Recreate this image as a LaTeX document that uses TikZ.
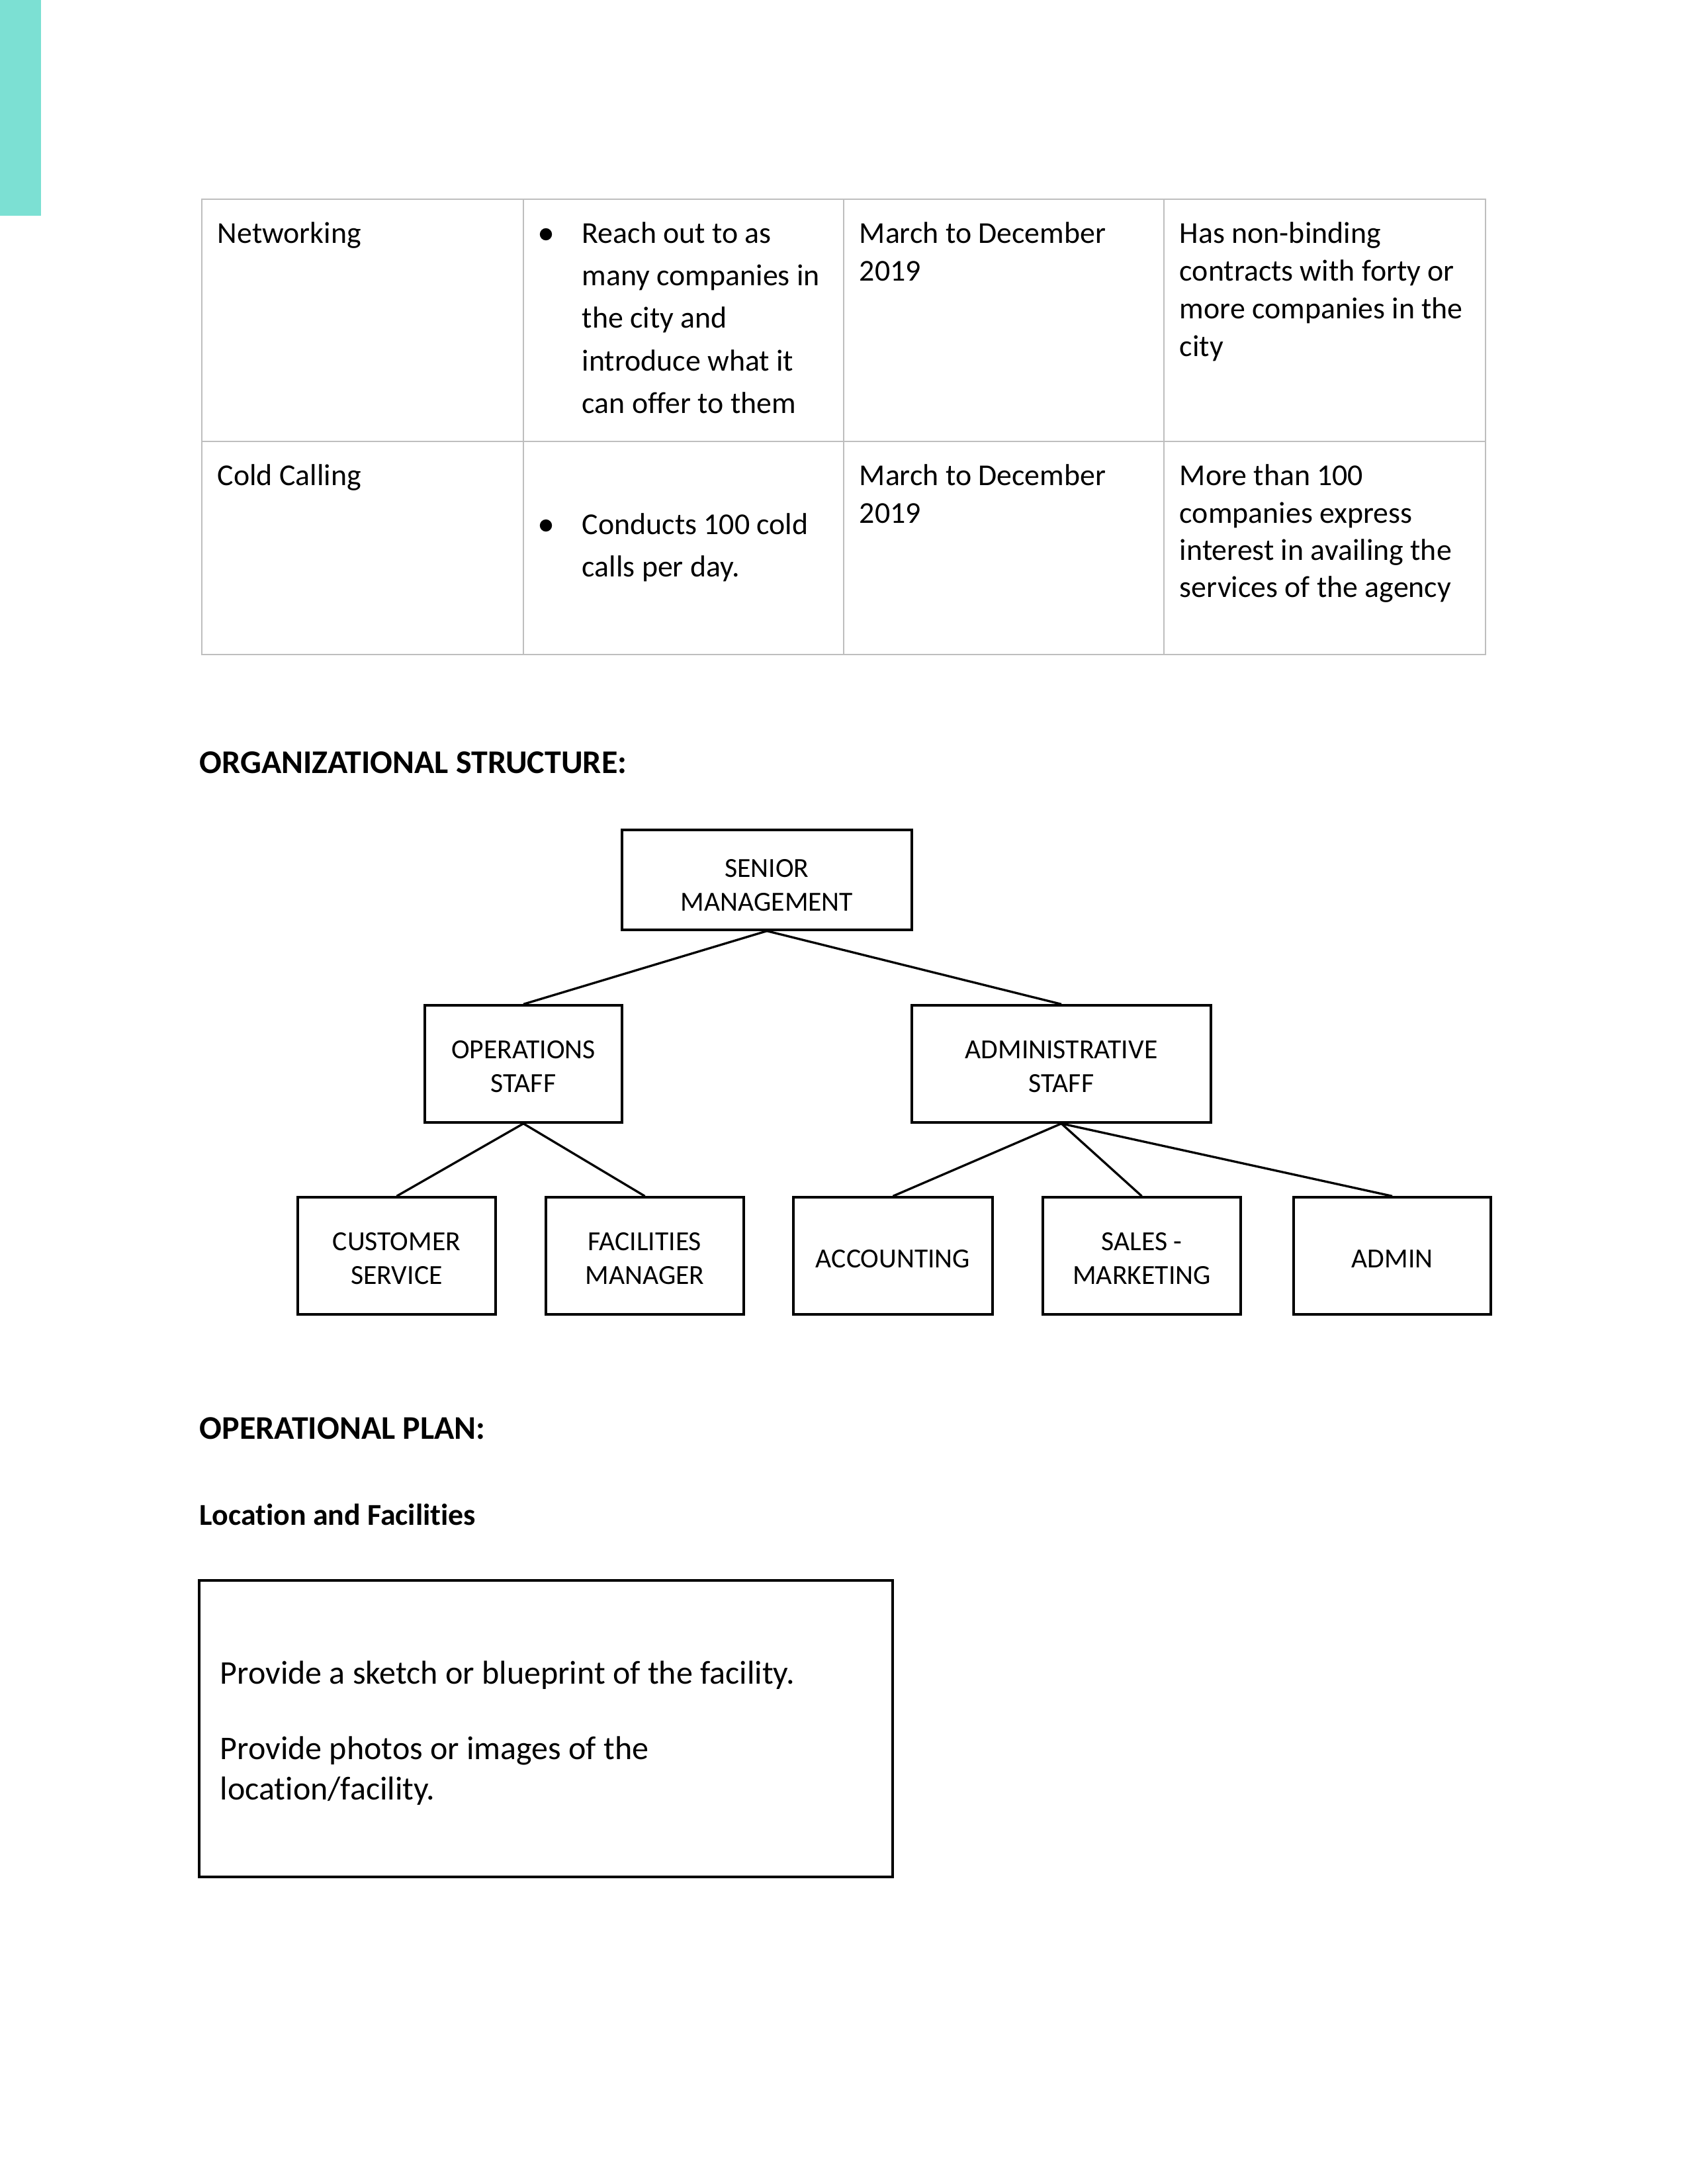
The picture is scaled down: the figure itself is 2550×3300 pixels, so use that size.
\documentclass[tikz,border=0pt]{standalone}
\usepackage{fontspec}
\setmainfont{Carlito}[Ligatures=NoCommon]
\definecolor{accentbar}{RGB}{124,224,211}
\definecolor{gridgray}{RGB}{190,190,190}
\newcommand{\orgstrut}[1][8.5pt]{\rule{0pt}{#1}}
\begin{document}
\begin{tikzpicture}[x=0.24pt,y=-0.24pt,
  tableline/.style={draw=gridgray, line width=0.55pt},
  tcell/.style={anchor=base west, inner sep=0pt, font=\fontsize{11}{13}\selectfont},
  heading/.style={anchor=base west, inner sep=0pt, font=\bfseries\fontsize{12}{14}\selectfont},
  subheading/.style={anchor=base west, inner sep=0pt, font=\bfseries\fontsize{11}{13}\selectfont},
  boxtext/.style={anchor=base west, inner sep=0pt, font=\fontsize{12}{14.6}\selectfont},
  orgbox/.style={draw, line width=0.8pt, align=center, inner sep=0pt,
    font=\fontsize{10}{12.2}\selectfont, minimum height={177*0.24pt}},
  orgline/.style={line width=0.8pt},
  bulletdot/.style={fill=black}
]
\useasboundingbox (0,0) rectangle (2550,3300);

% accent bar
\fill[accentbar] (0,0) rectangle (62,326);

% ---------- table ----------
\draw[tableline] (305,301) rectangle (2245,989);
\draw[tableline] (305,667) -- (2245,667);
\draw[tableline] (791,301) -- (791,989);
\draw[tableline] (1275,301) -- (1275,989);
\draw[tableline] (1759,301) -- (1759,989);

% row 1
\node[tcell] (r1c1) at (328,367) {Networking};
\fill[bulletdot] (825,354) circle[radius=2.2pt];
\node[tcell] (r1b1) at (879,367) {Reach out to as};
\node[tcell] (r1b2) at (879,431) {many companies in};
\node[tcell] (r1b3) at (879,495) {the city and};
\node[tcell] (r1b4) at (879,560) {introduce what it};
\node[tcell] (r1b5) at (879,624) {can offer to them};
\node[tcell] (r1c3a) at (1298,367) {March to December};
\node[tcell] (r1c3b) at (1298,424) {2019};
\node[tcell] (r1c4a) at (1782,367) {Has non-binding};
\node[tcell] (r1c4b) at (1782,424) {contracts with forty or};
\node[tcell] (r1c4c) at (1782,481) {more companies in the};
\node[tcell] (r1c4d) at (1782,538) {city};

% row 2
\node[tcell] (r2c1) at (328,733) {Cold Calling};
\fill[bulletdot] (825,794) circle[radius=2.2pt];
\node[tcell] (r2b1) at (879,807) {Conducts 100 cold};
\node[tcell] (r2b2) at (879,871) {calls per day.};
\node[tcell] (r2c3a) at (1298,733) {March to December};
\node[tcell] (r2c3b) at (1298,790) {2019};
\node[tcell] (r2c4a) at (1782,733) {More than 100};
\node[tcell] (r2c4b) at (1782,790) {companies express};
\node[tcell] (r2c4c) at (1782,846) {interest in availing the};
\node[tcell] (r2c4d) at (1782,902) {services of the agency};

% ---------- organizational structure ----------
\node[heading] (orghead) at (301,1168) {ORGANIZATIONAL STRUCTURE:};

\node[orgbox, minimum width={438*0.24pt}, minimum height={151*0.24pt}] (sm) at (1159,1329.5) {\orgstrut[10.5pt]SENIOR\\MANAGEMENT};
\node[orgbox, minimum width={298*0.24pt}] (ops) at (791,1607.5) {\orgstrut OPERATIONS\\STAFF};
\node[orgbox, minimum width={452*0.24pt}] (adm) at (1604,1607.5) {\orgstrut ADMINISTRATIVE\\STAFF};
\node[orgbox, minimum width={299*0.24pt}] (cs) at (599.5,1897.5) {\orgstrut CUSTOMER\\SERVICE};
\node[orgbox, minimum width={299*0.24pt}] (fm) at (974.5,1897.5) {\orgstrut FACILITIES\\MANAGER};
\node[orgbox, minimum width={301*0.24pt}] (acc) at (1349.5,1897.5) {\orgstrut ACCOUNTING};
\node[orgbox, minimum width={299*0.24pt}] (sales) at (1725.5,1897.5) {\orgstrut SALES -\\MARKETING};
\node[orgbox, minimum width={298*0.24pt}] (admin) at (2104,1897.5) {\orgstrut ADMIN};

\draw[orgline] (sm.south) -- (ops.north);
\draw[orgline] (sm.south) -- (adm.north);
\draw[orgline] (ops.south) -- (cs.north);
\draw[orgline] (ops.south) -- (fm.north);
\draw[orgline] (adm.south) -- (acc.north);
\draw[orgline] (adm.south) -- (sales.north);
\draw[orgline] (adm.south) -- (admin.north);

% ---------- operational plan ----------
\node[heading] (ophead) at (301,2174) {OPERATIONAL PLAN:};
\node[subheading] (lochead) at (301,2304) {Location and Facilities};

\draw[line width=0.8pt] (301,2388) rectangle (1349,2836);
\node[boxtext] (loc1) at (332,2544) {Provide a sketch or blueprint of the facility.};
\node[boxtext] (loc2) at (332,2658) {Provide photos or images of the};
\node[boxtext] (loc3) at (332,2719) {location/facility.};
\end{tikzpicture}
\end{document}
